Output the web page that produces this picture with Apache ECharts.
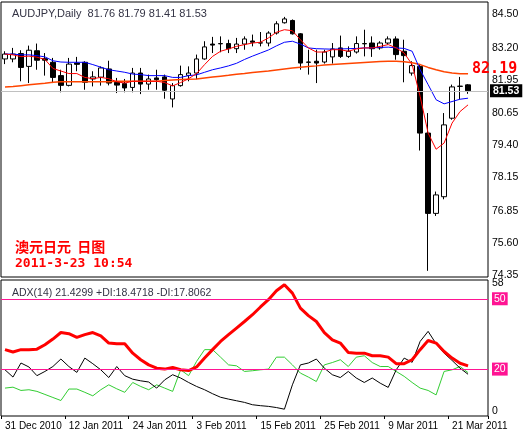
<!DOCTYPE html>
<html>
<head>
<meta charset="UTF-8">
<script src="https://cdn.jsdelivr.net/npm/echarts@6/dist/echarts.min.js"></script>
<style>
  * { margin: 0; padding: 0; }
  body { background: #fff; }
  #main { width: 528px; height: 433px; }
</style>
</head>
<body>
<div id="main"></div>
<script>
// date tick labels, one every 8 bars starting at bar 0
var tickLabels = ['31 Dec 2010', '12 Jan 2011', '24 Jan 2011', '3 Feb 2011', '15 Feb 2011', '25 Feb 2011', '9 Mar 2011', '21 Mar 2011'];
// candles: open, close, low, high
var candles = [
  [82.77,82.96,82.57,83.07],[82.77,82.96,82.64,83.20],[82.98,82.44,81.90,83.11],[82.48,83.11,81.83,83.29],
  [83.09,82.72,82.35,83.37],[82.78,82.72,82.12,83.00],[82.64,82.05,81.83,82.81],[82.12,81.74,81.47,82.35],
  [81.74,82.57,81.70,82.81],[82.61,82.56,82.29,82.85],[82.64,81.86,81.57,82.68],[81.99,82.07,81.70,82.29],
  [82.06,82.42,81.73,82.48],[82.38,81.83,81.74,82.70],[81.86,81.75,81.44,82.03],[81.81,81.64,81.47,81.99],
  [81.66,82.22,81.47,82.42],[82.22,81.79,81.40,82.42],[81.79,81.99,81.57,82.16],[82.03,81.96,81.57,82.35],
  [82.07,81.55,81.22,82.16],[81.21,81.73,80.88,81.83],[81.73,82.16,81.69,82.51],[82.13,82.22,81.90,82.48],
  [82.22,82.77,81.98,82.94],[82.77,83.24,82.74,83.46],[83.35,83.31,83.00,83.63],[83.37,83.36,83.03,83.65],
  [83.37,83.17,83.00,83.52],[83.17,83.35,83.00,83.59],[83.35,83.55,83.13,83.65],[83.47,83.42,83.26,83.72],
  [83.39,83.40,83.26,83.82],[83.39,83.78,83.26,83.85],[83.78,84.14,83.72,84.24],[84.18,84.33,84.15,84.41],
  [84.27,83.75,83.72,84.31],[83.75,82.61,82.35,83.78],[82.65,82.64,82.16,83.13],[82.68,82.61,81.83,83.13],
  [82.65,83.04,82.59,83.13],[82.85,83.16,82.59,83.39],[83.20,82.87,82.81,83.68],[82.87,83.07,82.81,83.26],
  [83.04,83.37,82.98,83.65],[83.37,83.36,82.87,83.91],[83.39,83.17,82.85,83.65],[83.20,83.39,83.13,83.46],
  [83.39,83.55,83.33,83.65],[83.55,82.94,82.74,83.65],[83.07,82.90,81.86,83.52],[82.22,82.51,82.12,82.68],
  [82.48,79.88,79.20,82.55],[79.88,76.75,74.51,80.66],[76.75,77.47,76.65,77.60],[77.40,80.20,77.30,80.66],
  [80.46,81.68,80.40,81.77],[81.70,81.71,81.21,82.07],[81.76,81.53,81.41,81.79]
];
var maFast = [82.96,82.93,82.86,82.88,82.84,82.75,82.40,82.30,82.20,82.20,82.05,82.00,82.05,82.00,81.88,81.83,
  81.90,81.90,81.90,81.90,81.85,81.72,81.85,82.00,82.20,82.55,82.87,83.07,83.16,83.26,83.33,83.39,83.42,83.59,
  83.81,83.91,83.87,83.52,83.20,83.04,83.04,83.13,83.13,83.07,83.16,83.20,83.20,83.26,83.33,83.20,83.00,82.55,
  81.31,79.88,79.25,79.49,80.27,80.72,80.98];
var maMid = [82.96,82.96,82.93,82.93,82.90,82.85,82.70,82.65,82.64,82.64,82.64,82.55,82.45,82.35,82.30,82.25,
  82.18,82.16,82.12,82.12,82.12,82.05,82.05,82.12,82.15,82.25,82.35,82.42,82.50,82.60,82.75,82.88,83.00,83.12,
  83.28,83.42,83.46,83.35,83.20,83.17,83.16,83.15,83.16,83.17,83.18,83.20,83.20,83.22,83.23,83.20,83.18,83.07,
  82.35,81.77,81.18,81.02,81.11,81.20,81.24];
var maSlow = [81.68,81.70,81.73,81.76,81.79,81.82,81.86,81.88,81.88,81.88,81.88,81.88,81.88,81.88,81.90,81.90,
  81.90,81.90,81.90,81.90,81.93,81.95,81.97,81.98,81.99,82.03,82.07,82.10,82.13,82.17,82.20,82.24,82.27,82.30,
  82.34,82.38,82.42,82.45,82.48,82.50,82.53,82.55,82.57,82.59,82.61,82.63,82.65,82.67,82.68,82.68,82.66,82.62,
  82.55,82.44,82.35,82.27,82.22,82.19,82.19];
var adx = [28.3,27.3,28.3,28.3,28.5,30.4,32.8,35.6,35.1,33.5,34.7,35.6,34.2,31.1,30.8,30.8,26.8,24.0,21.8,20.4,
  20.0,20.7,19.7,19.4,20.9,24.7,28.3,31.8,34.7,37.5,40.3,43.2,46.5,49.6,53.4,56.0,52.4,46.0,42.8,40.3,35.6,32.5,
  31.1,27.1,26.8,26.8,25.7,25.7,25.1,22.3,22.3,24.0,28.3,32.2,31.1,27.5,24.7,22.5,21.4];
var minusDi = [19.7,16.6,22.6,20.9,17.2,19.0,21.1,24.3,21.1,18.6,24.7,22.3,19.7,16.4,21.1,17.2,15.7,15.0,14.5,11.9,
  15.4,17.6,16.2,14.3,12.6,11.2,9.5,8.0,7.2,6.5,5.8,4.8,4.4,4.1,3.6,2.9,13.3,21.8,22.6,24.3,20.4,17.6,16.4,19.0,
  16.2,14.3,16.2,14.0,12.2,19.7,24.7,22.9,31.8,36.1,30.8,26.8,23.7,20.4,17.8];
var plusDi = [11.9,12.3,10.9,11.2,10.5,9.2,7.9,6.6,11.5,11.5,10.1,8.6,11.2,13.3,11.6,10.1,14.3,12.6,11.2,13.3,
  11.9,10.5,19.7,17.2,23.3,28.3,28.3,25.1,21.8,21.4,19.0,19.3,19.7,20.0,25.1,25.1,21.8,18.3,16.6,14.7,21.8,22.8,
  24.0,21.1,25.1,25.7,22.8,21.1,21.1,19.0,16.9,14.3,11.9,10.9,9.0,19.0,19.7,21.1,18.5];
var priceTicks = [84.50, 83.20, 81.95, 80.65, 79.40, 78.15, 76.85, 75.60, 74.35];
var adxTicks = [56.5, 2];
var adxTickText = ['58', '0'];
var adxLevels = [50, 20];

// 2 empty bars on the right (chart shift)
var cats = [];
for (var i = 0; i < candles.length + 2; i++) {
  cats.push(i % 8 == 0 && tickLabels[i / 8] ? tickLabels[i / 8] : '');
}

var font = '"Liberation Sans", Arial, sans-serif';
var tickLbl = function (v, txt, c, bg) {
  return {
    yAxis: v,
    lineStyle: { color: 'rgba(0,0,0,0)', width: 0 },
    label: { show: true, position: 'end', distance: 4, formatter: txt, color: c || '#000',
      fontFamily: font, fontSize: 10.5, backgroundColor: bg || 'transparent', padding: bg ? [1, 2] : 0 }
  };
};

var chart = echarts.init(document.getElementById('main'));
var option = {
  animation: false,
  backgroundColor: '#fff',
  title: [
    { text: 'AUDJPY,Daily  81.76 81.79 81.41 81.53', left: 7, top: 3,
      textStyle: { fontSize: 11, fontWeight: 'normal', color: '#334', fontFamily: font } },
    { text: 'ADX(14) 21.4299 +DI:18.4718 -DI:17.8062', left: 7, top: 283,
      textStyle: { fontSize: 10.5, fontWeight: 'normal', color: '#334', fontFamily: font } },
    { text: '澳元日元  日图', left: 10, top: 235,
      textStyle: { fontSize: 14, fontWeight: 'bold', color: '#ff0000', fontFamily: '"Noto Sans CJK SC"' } },
    { text: '2011-3-23 10:54', left: 10, top: 252,
      textStyle: { fontSize: 13, fontWeight: 'bold', color: '#ff0000', fontFamily: '"DejaVu Sans Mono"' } }
  ],
  grid: [
    { left: 1, right: 40, top: 2, height: 275, show: true, borderColor: '#000', borderWidth: 1 },
    { left: 1, right: 40, top: 280, bottom: 17, show: true, borderColor: '#000', borderWidth: 1 }
  ],
  xAxis: [
    { type: 'category', gridIndex: 0, data: cats, show: false },
    { type: 'category', gridIndex: 1, data: cats,
      axisLine: { show: false },
      axisTick: { show: true, length: 3, lineStyle: { color: '#000' }, interval: function (i) { return i % 8 == 0; } },
      axisLabel: { interval: 0, align: 'left', margin: 5, fontSize: 10, color: '#000', fontFamily: font } }
  ],
  yAxis: [
    { type: 'value', gridIndex: 0, min: 74.27, max: 84.99, position: 'right', splitLine: { show: false },
      axisLabel: { show: false }, axisTick: { show: false }, axisLine: { show: false } },
    { type: 'value', gridIndex: 1, min: 0, max: 58, position: 'right', splitLine: { show: false },
      axisLabel: { show: false }, axisTick: { show: false }, axisLine: { show: false } }
  ],
  series: [
    {
      type: 'candlestick', xAxisIndex: 0, yAxisIndex: 0, data: candles, barWidth: 5,
      itemStyle: { color: '#fff', color0: '#000', borderColor: '#000', borderColor0: '#000', borderWidth: 1 },
      markLine: {
        silent: true, symbol: 'none',
        data: priceTicks.map(function (v) { return tickLbl(v, v.toFixed(2)); }).concat([{
          yAxis: 81.53, lineStyle: { color: '#c0c0c0', type: 'solid', width: 1 },
          label: { show: true, position: 'end', distance: 2, formatter: '81.53', color: '#fff', fontWeight: 'bold',
            fontFamily: font, fontSize: 10.5, backgroundColor: '#000', padding: [1, 3] }
        }])
      }
    },
    { type: 'line', xAxisIndex: 0, yAxisIndex: 0, data: maSlow, symbol: 'none',
      lineStyle: { color: '#ff4500', width: 1.5 },
      markPoint: { symbol: 'circle', symbolSize: 0,
        data: [{ coord: [maSlow.length - 1, maSlow[maSlow.length - 1]],
          label: { show: true, position: 'right', distance: 4, formatter: '82.19', color: '#ff0000',
            fontSize: 15, fontWeight: 'bold', fontFamily: '"DejaVu Sans Mono"', offset: [0, -5] } }] } },
    { type: 'line', xAxisIndex: 0, yAxisIndex: 0, data: maMid, symbol: 'none', lineStyle: { color: '#0000ff', width: 1 } },
    { type: 'line', xAxisIndex: 0, yAxisIndex: 0, data: maFast, symbol: 'none', lineStyle: { color: '#ff0000', width: 1 } },
    { type: 'line', xAxisIndex: 1, yAxisIndex: 1, data: plusDi, symbol: 'none', lineStyle: { color: '#32cd32', width: 1 },
      markLine: {
        silent: true, symbol: 'none',
        data: adxTicks.map(function (v, k) { return tickLbl(v, adxTickText[k]); }).concat(adxLevels.map(function (v) {
          var m = tickLbl(v, String(v), '#fff', '#ff1493');
          m.lineStyle = { color: '#ff1493', type: 'solid', width: 1 };
          return m;
        }))
      } },
    { type: 'line', xAxisIndex: 1, yAxisIndex: 1, data: minusDi, symbol: 'none', lineStyle: { color: '#000', width: 1 } },
    { type: 'line', xAxisIndex: 1, yAxisIndex: 1, data: adx, symbol: 'none', lineStyle: { color: '#ff0000', width: 3 } }
  ]
};
chart.setOption(option);
</script>
</body>
</html>
